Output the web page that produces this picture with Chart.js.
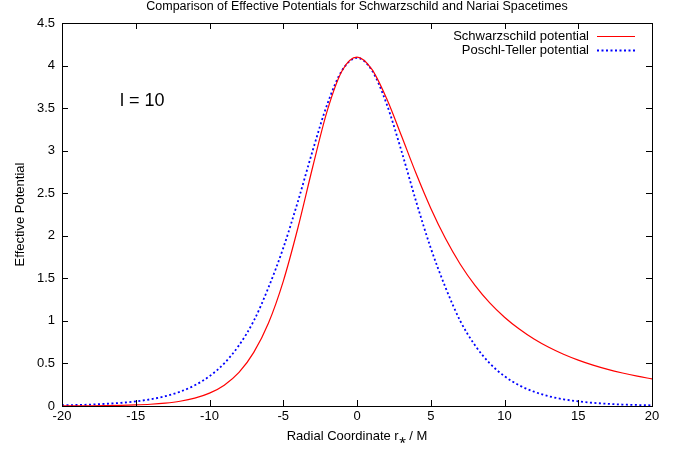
<!DOCTYPE html>
<html>
<head>
<meta charset="utf-8">
<title>Effective Potentials</title>
<script src="https://cdn.jsdelivr.net/npm/chart.js@4"></script>
<style>
  html, body { margin: 0; padding: 0; background: #fff; }
  #wrap { width: 681px; height: 451px; }
</style>
</head>
<body>
<div id="wrap"><canvas id="chartPot"></canvas></div>
<script>
// radial coordinate r* / M
const rStar = [-20, -19, -18, -17, -16, -15, -14, -13, -12, -11, -10, -9, -8, -7, -6, -5, -4, -3, -2, -1,
    0, 1, 2, 3, 4, 5, 6, 7, 8, 9, 10, 11, 12, 13, 14, 15, 16, 17, 18, 19, 20];

// Schwarzschild potential, l = 10
const schwarzschild = [0.001, 0.0017, 0.0028, 0.0047, 0.0077, 0.0127, 0.0208, 0.0343, 0.0561, 0.092,
    0.151, 0.245, 0.394, 0.630, 0.975, 1.465, 2.097, 2.811, 3.479, 3.942,
    4.099, 3.958, 3.616, 3.181, 2.734, 2.324, 1.967, 1.666, 1.417, 1.211,
    1.043, 0.904, 0.787, 0.690, 0.608, 0.539, 0.480, 0.430, 0.388, 0.351, 0.318];

// Poschl-Teller fit
const poschlTeller = [0.008, 0.012, 0.017, 0.026, 0.037, 0.054, 0.079, 0.115, 0.168, 0.243,
    0.350, 0.502, 0.713, 1.000, 1.393, 1.856, 2.407, 3.004, 3.553, 3.946,
    4.090, 3.946, 3.553, 3.004, 2.407, 1.856, 1.393, 1.000, 0.713, 0.502,
    0.350, 0.243, 0.168, 0.115, 0.079, 0.054, 0.037, 0.026, 0.017, 0.012, 0.008];

const seriesNames = ['Schwarzschild potential', 'Poschl-Teller potential'];
const seriesColors = ['#ff0000', '#0000ff'];
const titleText = 'Comparison of Effective Potentials for Schwarzschild and Nariai Spacetimes';
const xTitle = 'Radial Coordinate r\u204E / M';
const yTitle = 'Effective Potential';
const noteText = 'l = 10';

const FONT = '"Liberation Sans", Arial, Helvetica, sans-serif';
Chart.defaults.font.family = FONT;
Chart.defaults.color = '#000';

// gnuplot style: border box, ticks pointing inward on all sides, key and label
const gnuplotFrame = {
    id: 'gnuplotFrame',
    afterDatasetsDraw(chart) {
        const ctx = chart.ctx;
        const a = chart.chartArea;
        const sx = chart.scales.x, sy = chart.scales.y;
        const tick = 6;
        ctx.save();
        ctx.strokeStyle = '#000';
        ctx.lineWidth = 1;
        ctx.beginPath();
        sx.ticks.forEach(t => {
            const px = Math.round(sx.getPixelForValue(t.value)) + 0.5;
            ctx.moveTo(px, a.bottom); ctx.lineTo(px, a.bottom - tick);
            ctx.moveTo(px, a.top); ctx.lineTo(px, a.top + tick);
        });
        sy.ticks.forEach(t => {
            const py = Math.round(sy.getPixelForValue(t.value)) + 0.5;
            ctx.moveTo(a.left, py); ctx.lineTo(a.left + tick, py);
            ctx.moveTo(a.right, py); ctx.lineTo(a.right - tick, py);
        });
        ctx.stroke();
        ctx.strokeRect(Math.round(a.left) + 0.5, Math.round(a.top) + 0.5,
            Math.round(a.right - a.left), Math.round(a.bottom - a.top));

        // key
        ctx.font = '13px ' + FONT;
        ctx.textAlign = 'right';
        ctx.textBaseline = 'middle';
        chart.data.datasets.forEach((ds, i) => {
            const y = Math.round(a.top + 13 + i * 14) + 0.5;
            ctx.fillStyle = '#000';
            ctx.fillText(ds.label, a.right - 63, y);
            ctx.beginPath();
            ctx.strokeStyle = seriesColors[i];
            ctx.lineWidth = i === 0 ? 1.2 : 1.8;
            ctx.setLineDash(i === 0 ? [] : [2, 2.5]);
            ctx.moveTo(a.right - 55, y);
            ctx.lineTo(a.right - 17, y);
            ctx.stroke();
        });
        ctx.setLineDash([]);

        // l = 10 label
        ctx.font = '18px ' + FONT;
        ctx.textAlign = 'left';
        ctx.fillStyle = '#000';
        ctx.fillText(noteText, a.left + 58, a.top + 78);
        ctx.restore();
    }
};

const ctxPot = document.getElementById('chartPot').getContext('2d');
const chartPot = new Chart(ctxPot, {
    type: 'line',
    data: {
        datasets: [{
            label: seriesNames[0],
            data: rStar.map((x, i) => ({ x: x, y: schwarzschild[i] })),
            borderColor: seriesColors[0],
            borderWidth: 1.2,
            pointRadius: 0,
            fill: false,
            cubicInterpolationMode: 'monotone'
        }, {
            label: seriesNames[1],
            data: rStar.map((x, i) => ({ x: x, y: poschlTeller[i] })),
            borderColor: seriesColors[1],
            borderWidth: 1.8,
            borderDash: [2, 2.5],
            pointRadius: 0,
            fill: false,
            cubicInterpolationMode: 'monotone'
        }]
    },
    options: {
        responsive: true,
        maintainAspectRatio: false,
        animation: false,
        layout: { padding: { left: 0, right: 29, top: 0, bottom: 0 } },
        plugins: {
            legend: { display: false },
            tooltip: { enabled: false },
            title: {
                display: true,
                fullSize: false,
                text: titleText,
                font: { size: 12.5, weight: 'normal', lineHeight: 1 },
                padding: { top: 0, bottom: 10.5 }
            }
        },
        scales: {
            x: {
                type: 'linear',
                min: -20,
                max: 20,
                grid: { display: false, drawTicks: false },
                border: { display: false },
                ticks: { stepSize: 5, padding: 3, font: { size: 13 }, maxRotation: 0 },
                title: { display: true, text: xTitle, font: { size: 13 }, padding: { top: 0, bottom: 7 } },
                afterFit: s => { s.height = 45; }
            },
            y: {
                min: 0,
                max: 4.5,
                grid: { display: false, drawTicks: false },
                border: { display: false },
                ticks: {
                    stepSize: 0.5,
                    padding: 7,
                    font: { size: 13 },
                    callback: v => String(Math.round(v * 10) / 10)
                },
                title: { display: true, text: yTitle, font: { size: 13 }, padding: { top: 13, bottom: 0 } },
                afterFit: s => { s.width = 62; }
            }
        }
    },
    plugins: [gnuplotFrame]
});
</script>
</body>
</html>
